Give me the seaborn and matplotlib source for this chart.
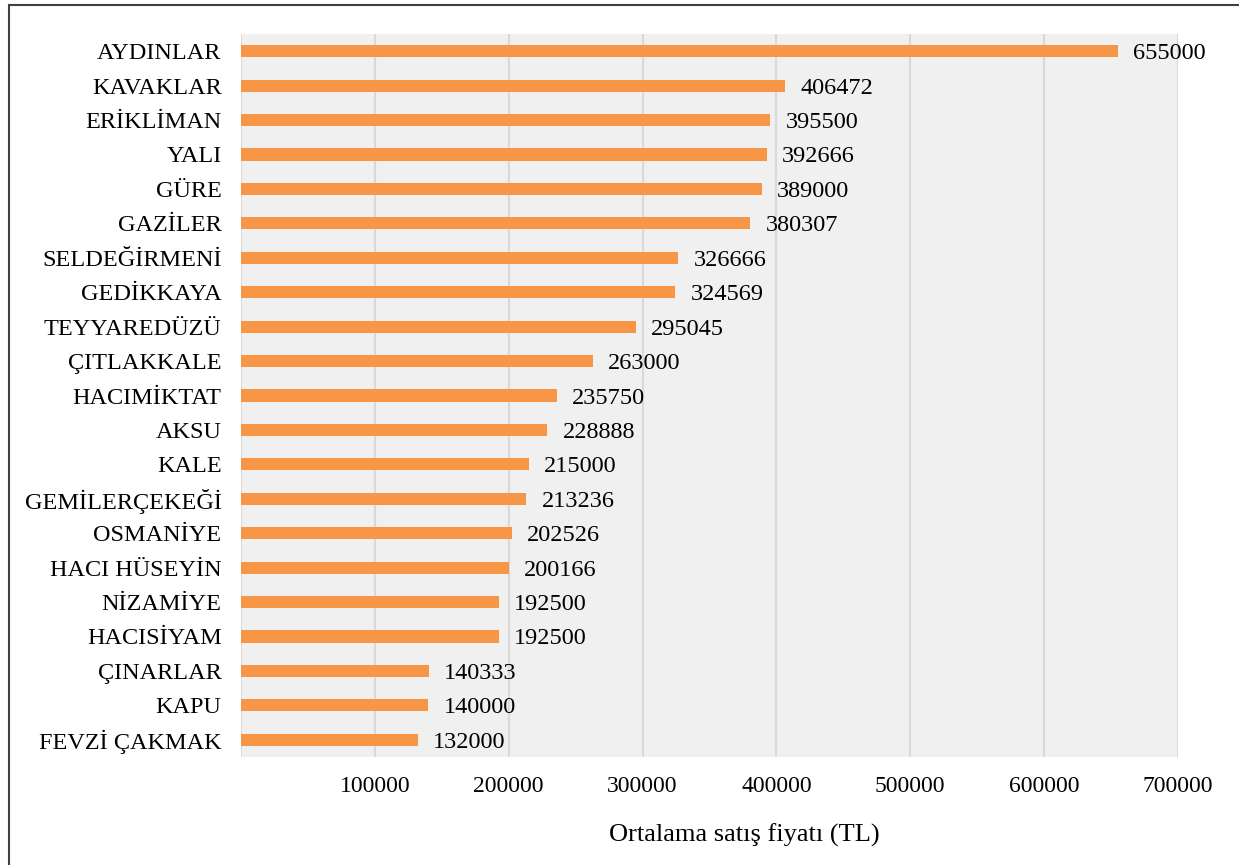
import matplotlib
matplotlib.use("Agg")
import matplotlib.pyplot as plt
from matplotlib.patches import Rectangle
import seaborn as sns
import pandas as pd

neighbourhoods = [
    "AYDINLAR", "KAVAKLAR", "ERİKLİMAN", "YALI", "GÜRE", "GAZİLER",
    "SELDEĞİRMENİ", "GEDİKKAYA", "TEYYAREDÜZÜ", "ÇITLAKKALE", "HACIMİKTAT",
    "AKSU", "KALE", "GEMİLERÇEKEĞİ", "OSMANİYE", "HACI HÜSEYİN", "NİZAMİYE",
    "HACISİYAM", "ÇINARLAR", "KAPU", "FEVZİ ÇAKMAK",
]
avg_price = [
    655000, 406472, 395500, 392666, 389000, 380307,
    326666, 324569, 295045, 263000, 235750,
    228888, 215000, 213236, 202526, 200166, 192500,
    192500, 140333, 140000, 132000,
]
x_ticks = [100000, 200000, 300000, 400000, 500000, 600000, 700000]
x_label = "Ortalama satış fiyatı (TL)"

df = pd.DataFrame({"mahalle": neighbourhoods, "fiyat": avg_price})

sns.set_theme(style="white")
plt.rcParams["font.family"] = ["Liberation Serif", "DejaVu Serif"]

fig = plt.figure(figsize=(12.39, 8.65), dpi=100)
ax = fig.add_axes([241 / 1239, 1 - 757 / 865, 937 / 1239, (757 - 34) / 865])

sns.barplot(data=df, x="fiyat", y="mahalle", order=neighbourhoods,
            color="#F79646", saturation=1, width=0.35, orient="h", ax=ax,
            linewidth=0, edgecolor="none", zorder=3)

ax.set_facecolor("#F0F0F0")
ax.set_xlim(0, 700000)
ax.set_ylim(len(neighbourhoods) - 0.5, -0.5)

# vertical gridlines, including the one at zero
ax.set_xticks([0] + x_ticks)
ax.set_xticklabels([""] + [str(v) for v in x_ticks])
ax.grid(axis="x", color="#D9D9D9", linewidth=1.5, zorder=0)
ax.grid(axis="y", visible=False)
ax.set_axisbelow(True)

for s in ax.spines.values():
    s.set_visible(False)

ax.tick_params(axis="both", length=0, colors="black")
ax.tick_params(axis="y", pad=14, labelsize=17.5)
ax.tick_params(axis="x", pad=14, labelsize=17)
ax.set_ylabel("")
ax.set_xlabel(x_label, fontsize=19, color="black")
ax.xaxis.set_label_coords(0.537, -0.092)

for container in ax.containers:
    texts = ax.bar_label(container, labels=[str(v) for v in avg_price],
                         padding=11, fontsize=17.5, color="black")
    for t in texts:
        t.set_va("center_baseline")

# outer frame around the figure
fig.patches.append(Rectangle((9 / 1239, -0.05), 1.2, 1 - 5 / 865 + 0.05,
                             transform=fig.transFigure, fill=False,
                             edgecolor="#404040", linewidth=1.5))

fig.savefig("out.png", dpi=100)
